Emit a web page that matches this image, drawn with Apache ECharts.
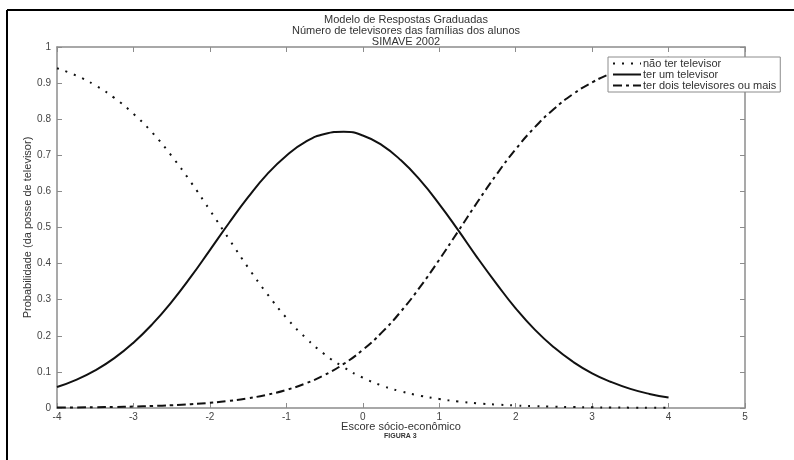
<!DOCTYPE html>
<html>
<head>
<meta charset="utf-8">
<script src="https://cdn.jsdelivr.net/npm/echarts@6/dist/echarts.min.js"></script>
<style>
html,body{margin:0;padding:0;background:#fff;}
#c{width:794px;height:460px;}
</style>
</head>
<body>
<div id="c"></div>
<script>
// Data
var titleLines = ["Modelo de Respostas Graduadas", "Número de televisores das famílias dos alunos", "SIMAVE 2002"];
var seriesNames = ["não ter televisor", "ter um televisor", "ter dois televisores ou mais"];
var xs = [-4,-3.75,-3.5,-3.25,-3,-2.75,-2.5,-2.25,-2,-1.75,-1.5,-1.25,-1,-0.75,-0.5,-0.25,0,0.25,0.5,0.75,1,1.25,1.5,1.75,2,2.25,2.5,2.75,3,3.25,3.5,3.75,4];
var pNone = [0.941,0.921,0.894,0.859,0.815,0.762,0.698,0.626,0.548,0.468,0.389,0.316,0.250,0.195,0.149,0.113,0.084,0.062,0.046,0.034,0.025,0.018,0.013,0.0095,0.007,0.005,0.0037,0.0026,0.0019,0.0014,0.001,0.0007,0.0005];
var pOne = [0.058,0.078,0.104,0.138,0.181,0.233,0.294,0.363,0.4375,0.5125,0.584,0.648,0.699,0.737,0.759,0.765,0.755,0.728,0.686,0.631,0.565,0.492,0.416,0.344,0.276,0.217,0.168,0.128,0.096,0.072,0.053,0.039,0.029];
var pTwo = [0.0011,0.0015,0.0021,0.0029,0.004,0.0055,0.0076,0.0104,0.0143,0.0197,0.027,0.0368,0.0502,0.0679,0.0914,0.122,0.161,0.2094,0.2677,0.3354,0.4107,0.4903,0.5705,0.647,0.7168,0.7776,0.8283,0.8695,0.902,0.927,0.946,0.9603,0.9709];
var xAxisName = "Escore sócio-econômico";
var yAxisName = "Probabilidade (da posse de televisor)";
var figureLabel = "FIGURA 3";

function pairs(ys){ return xs.map(function(x,i){ return [x, ys[i]]; }); }

var FONT = "'Liberation Sans', Arial, Helvetica, sans-serif";
var AXC = '#8c8c8c';
var LBL = '#444';

var chart = echarts.init(document.getElementById('c'), null, {renderer:'canvas'});
var axisCommon = {
  axisLine:{show:true, onZero:false, lineStyle:{color:AXC, width:1.5}},
  splitLine:{show:false}
};
chart.setOption({
  backgroundColor:'#ffffff',
  animation:false,
  textStyle:{fontFamily:FONT},
  title:{
    text: titleLines.join('\n'),
    left: 401, textAlign:'center', top: 9,
    textStyle:{fontSize:11, fontWeight:'normal', color:'#333', lineHeight:11, fontFamily:FONT}
  },
  legend:{
    orient:'vertical', left:608, top:57,
    backgroundColor:'#fff', borderColor:AXC, borderWidth:1,
    padding:[1,4,1,4], itemGap:0, itemWidth:28, itemHeight:10,
    itemStyle:{opacity:0},
    textStyle:{fontSize:11, color:'#333', lineHeight:10, fontFamily:FONT, padding:[0,0,0,-3]},
    data: seriesNames
  },
  grid:{left:57, right:49, top:47, bottom:52},
  xAxis:[
    Object.assign({}, axisCommon, {
      type:'value', min:-4, max:5, interval:1, position:'bottom',
      axisTick:{show:true, inside:true, length:5, lineStyle:{color:AXC}},
      axisLabel:{fontSize:10, color:LBL, margin:4, fontFamily:FONT},
      name:xAxisName, nameLocation:'middle', nameGap:13, nameMoveOverlap:false,
      nameTextStyle:{fontSize:11, color:'#333', fontFamily:FONT}
    }),
    Object.assign({}, axisCommon, {
      type:'value', min:-4, max:5, interval:1, position:'top',
      axisTick:{show:true, inside:true, length:5, lineStyle:{color:AXC}},
      axisLabel:{show:false}
    })
  ],
  yAxis:[
    Object.assign({}, axisCommon, {
      type:'value', min:0, max:1, interval:0.1, position:'left',
      axisTick:{show:true, inside:true, length:5, lineStyle:{color:AXC}},
      axisLabel:{fontSize:10, color:LBL, margin:6, fontFamily:FONT,
        formatter:function(v){ return String(Math.round(v*10)/10); }},
      name:yAxisName, nameLocation:'middle', nameGap:24, nameRotate:90, nameMoveOverlap:false,
      nameTextStyle:{fontSize:11, color:'#333', fontFamily:FONT}
    }),
    Object.assign({}, axisCommon, {
      type:'value', min:0, max:1, interval:0.1, position:'right',
      axisTick:{show:true, inside:true, length:5, lineStyle:{color:AXC}},
      axisLabel:{show:false}
    })
  ],
  series:[
    {name:seriesNames[0], type:'line', data:pairs(pNone), smooth:true, symbol:'none',
     lineStyle:{color:'#111', width:2, type:[2,7]}, itemStyle:{color:'#111'}},
    {name:seriesNames[1], type:'line', data:pairs(pOne), smooth:true, symbol:'none',
     lineStyle:{color:'#111', width:2, type:'solid'}, itemStyle:{color:'#111'}},
    {name:seriesNames[2], type:'line', data:pairs(pTwo), smooth:true, symbol:'none',
     lineStyle:{color:'#111', width:2, type:[9,4,3,4]}, itemStyle:{color:'#111'}}
  ],
  graphic:[
    {type:'line', shape:{x1:7, y1:10, x2:794, y2:10}, style:{stroke:'#000', lineWidth:2}},
    {type:'line', shape:{x1:7, y1:10, x2:7, y2:460}, style:{stroke:'#000', lineWidth:2}},
    {type:'text', left:384, top:433, style:{text:figureLabel, fontSize:7, fontWeight:'bold', fill:'#333', fontFamily:FONT}}
  ]
});
</script>
</body>
</html>
